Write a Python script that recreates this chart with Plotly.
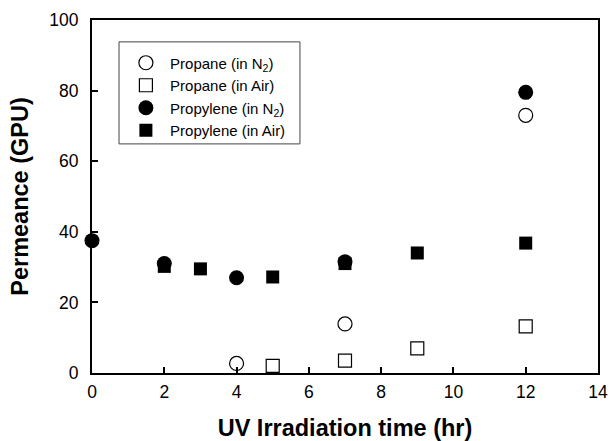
import plotly.graph_objects as go

# Data
propane_n2_x = [4, 7, 12]
propane_n2_y = [2.7, 13.9, 73.0]
propane_air_x = [5, 7, 9, 12]
propane_air_y = [2.0, 3.5, 7.0, 13.2]
propylene_n2_x = [0, 2, 4, 7, 12]
propylene_n2_y = [37.5, 31.0, 27.0, 31.5, 79.5]
propylene_air_x = [2, 3, 5, 7, 9, 12]
propylene_air_y = [30.2, 29.5, 27.2, 31.0, 34.0, 36.8]

x_ticks = [0, 2, 4, 6, 8, 10, 12, 14]
y_ticks = [0, 20, 40, 60, 80, 100]

FONT = "Liberation Sans, Arial, Helvetica, sans-serif"
LEAD = "&nbsp;"

fig = go.Figure()
fig.add_trace(go.Scatter(x=propane_n2_x, y=propane_n2_y, mode="markers", name=LEAD + "Propane (in N<sub>2</sub>)",
                         marker=dict(symbol="circle-open", size=14, color="black", line=dict(width=1.2)), cliponaxis=False))
fig.add_trace(go.Scatter(x=propane_air_x, y=propane_air_y, mode="markers", name=LEAD + "Propane (in Air)",
                         marker=dict(symbol="square-open", size=13, color="black", line=dict(width=1.2)), cliponaxis=False))
fig.add_trace(go.Scatter(x=propylene_n2_x, y=propylene_n2_y, mode="markers", name=LEAD + "Propylene (in N<sub>2</sub>)",
                         marker=dict(symbol="circle", size=15, color="black"), cliponaxis=False))
fig.add_trace(go.Scatter(x=propylene_air_x, y=propylene_air_y, mode="markers", name=LEAD + "Propylene (in Air)",
                         marker=dict(symbol="square", size=13, color="black"), cliponaxis=False))

axis_common = dict(showline=True, linecolor="black", linewidth=2, mirror=True,
                   ticks="inside", ticklen=6, tickwidth=2, tickcolor="black",
                   showgrid=False, zeroline=False, automargin=False,
                   tickfont=dict(family=FONT, size=17.5, color="black"))

fig.update_xaxes(range=[0, 14], tickvals=x_ticks, ticktext=[str(v) for v in x_ticks],
                 ticklabelstandoff=2,
                 title=dict(text="<b>UV Irradiation time (hr)</b>", font=dict(family=FONT, size=23.5, color="black"), standoff=19),
                 **axis_common)
fig.update_yaxes(range=[0, 100], tickvals=y_ticks, ticktext=[str(v) for v in y_ticks],
                 ticklabelstandoff=8,
                 title=dict(text="<b>Permeance (GPU)</b>", font=dict(family=FONT, size=23.5, color="black"), standoff=14),
                 **axis_common)

# legend frame (plot-area fractions)
fig.add_shape(type="rect", xref="paper", yref="paper", x0=0.0534, x1=0.411, y0=0.649, y1=0.938,
              line=dict(color="#444", width=1), fillcolor="rgba(0,0,0,0)", layer="below")

fig.update_layout(
    width=613, height=441,
    margin=dict(l=92, r=15, t=20, b=68),
    paper_bgcolor="white", plot_bgcolor="white",
    font=dict(family=FONT, color="black"),
    legend=dict(x=0.067, y=0.925, xanchor="left", yanchor="top",
                borderwidth=0, bgcolor="rgba(0,0,0,0)",
                font=dict(family=FONT, size=15, color="black"),
                tracegroupgap=0, itemwidth=30),
)

fig.write_html("out.html")
